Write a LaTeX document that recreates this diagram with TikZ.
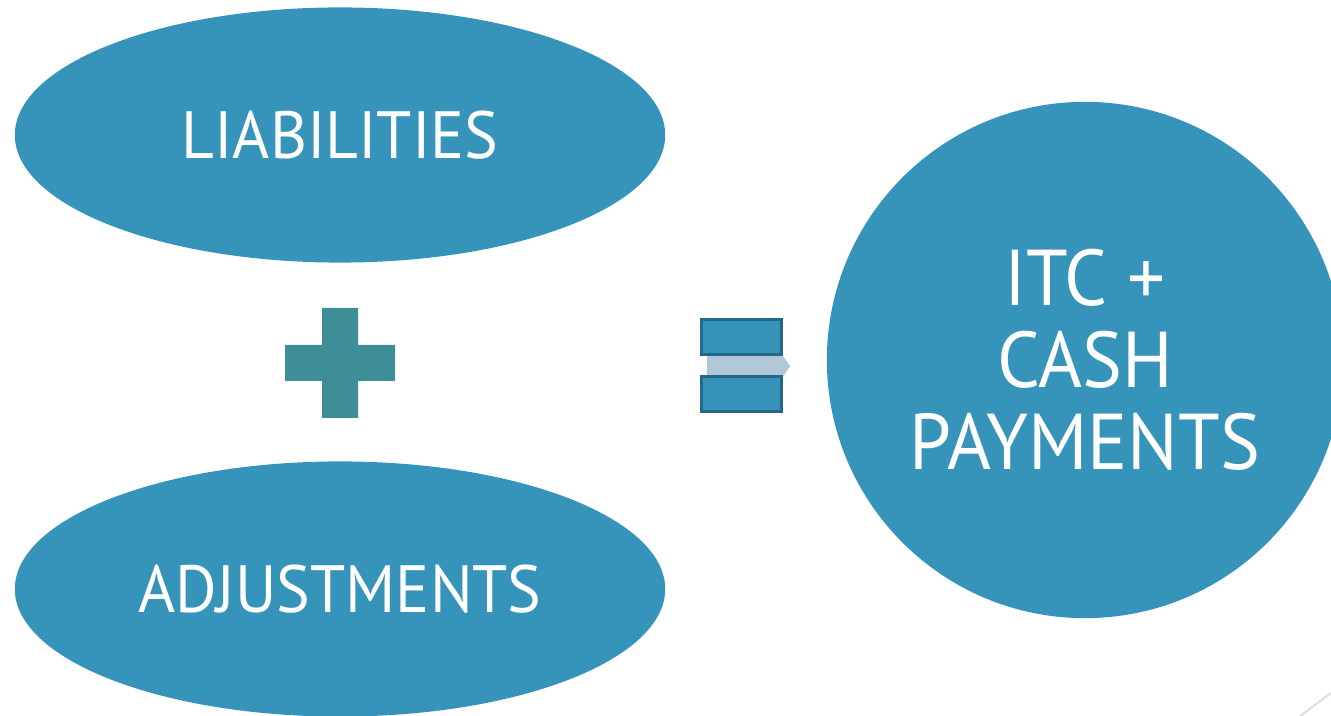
\documentclass[tikz,border=0pt]{standalone}
\usepackage{fontspec}
\setmainfont{PT Sans}[FakeStretch=0.95]
\usetikzlibrary{shapes.geometric,positioning}
\definecolor{blob}{HTML}{3694BB}
\definecolor{plusc}{HTML}{3D8E96}
\definecolor{eqline}{HTML}{25688A}
\definecolor{eqback}{HTML}{B0C7D8}
\tikzset{
  term/.style={ellipse,fill=blob,text=white,minimum width=6.5cm,minimum height=2.55cm,font=\fontsize{19}{19}\selectfont},
  result/.style={circle,fill=blob,text=white,minimum size=5.16cm,align=center,font=\fontsize{22.5}{23.3}\selectfont},
  bar/.style={draw=eqline,fill=blob,line width=1pt}
}
\begin{document}
\begin{tikzpicture}[x=0.01cm,y=-0.01cm]
	\useasboundingbox (0,0) rectangle (1331,716);
	% the two terms on the left
	\node[term] (liab) at (340,135) {LIABILITIES};
	\node[term] (adj) at (340,589) {ADJUSTMENTS};
	% plus sign
	\fill[plusc] (285,345) rectangle (395,381) (322,308) rectangle (358,418);
	% equals sign with the faint arrow behind it
	\fill[eqback] (707,356)--(783,356)--(790,366)--(783,377)--(707,377)--cycle;
	\draw[bar] (701.5,319.5) rectangle (781.5,354.5);
	\draw[bar] (701.5,376.5) rectangle (781.5,411.5);
	% the total
	\node[result] (total) at (1085,360) {ITC +\\CASH\\PAYMENTS};
	\draw[gray!25,line width=0.6pt] (1300,716)--(1335,690);
\end{tikzpicture}
\end{document}
